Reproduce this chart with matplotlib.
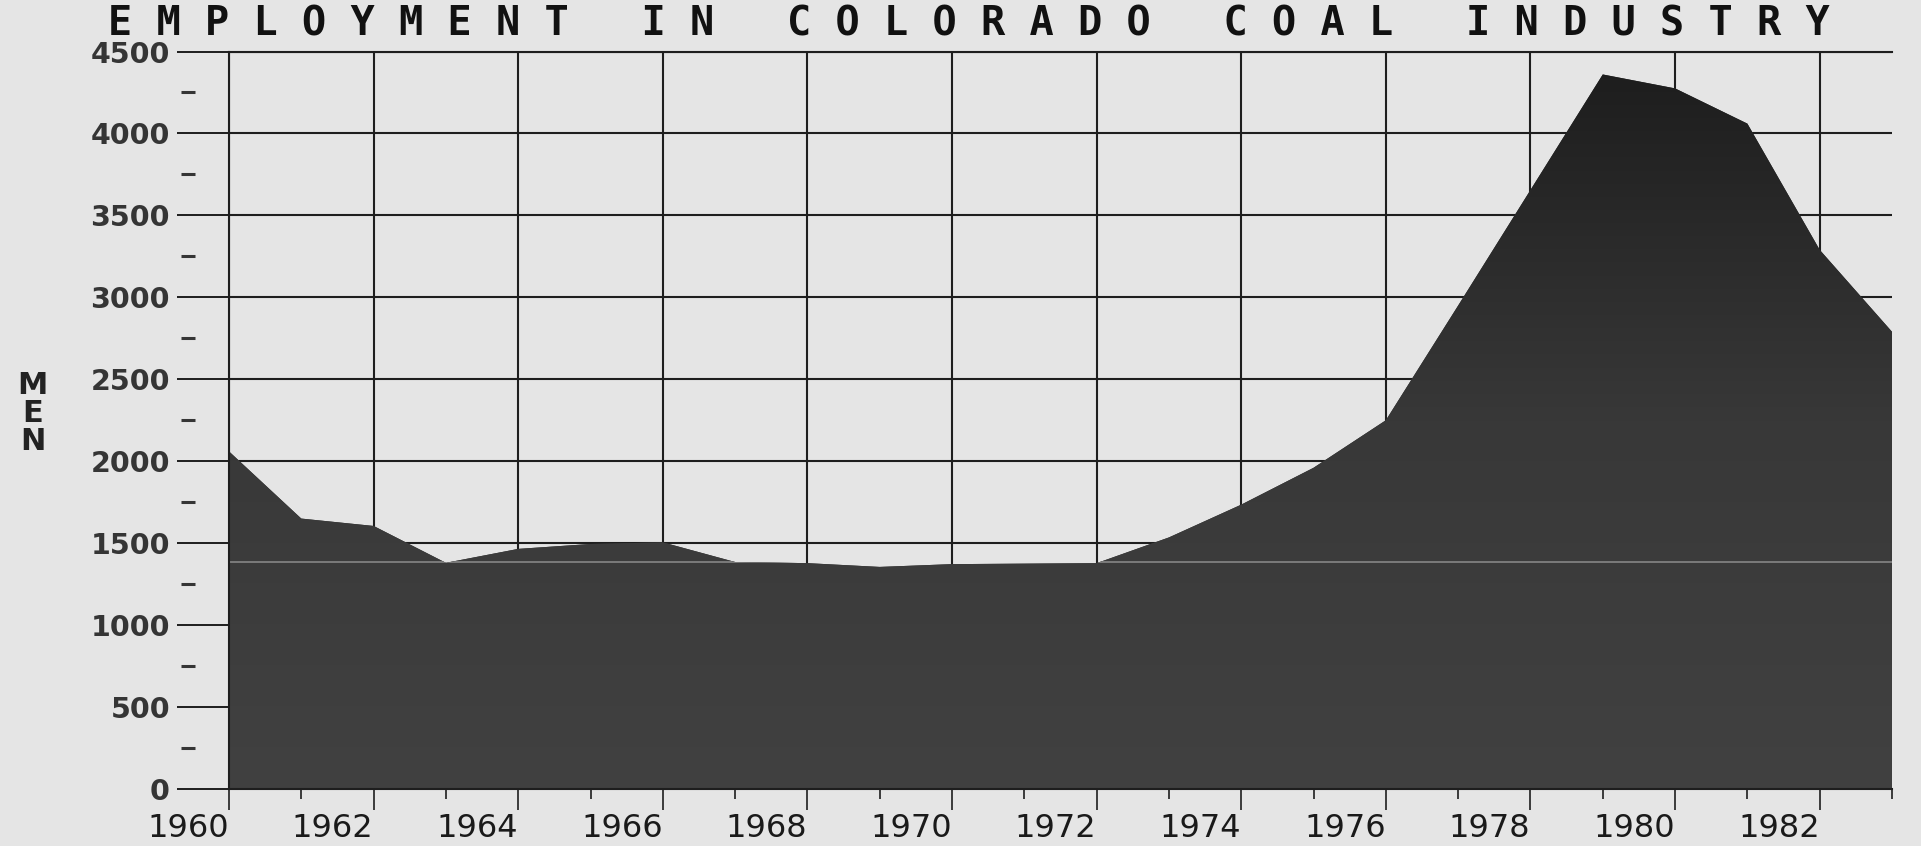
import numpy as np
import matplotlib
matplotlib.use("Agg")
import matplotlib.pyplot as plt
from matplotlib.colors import LinearSegmentedColormap

# Colorado coal industry employment
years = np.arange(1960, 1984)
men = [2060, 1650, 1605, 1380, 1465, 1495, 1505, 1385, 1378, 1355,
       1372, 1375, 1378, 1535, 1735, 1960, 2250, 2950, 3655, 4360,
       4275, 4060, 3290, 2790]

title = "EMPLOYMENT IN COLORADO COAL INDUSTRY"
ylabel = "MEN"
y_major = np.arange(0, 4501, 500)
y_minor = np.arange(250, 4500, 500)
x_major = np.arange(1960, 1983, 2)
x_minor = np.arange(1961, 1984, 2)
scan_line = 1385  # faint light streak across the shaded area

PAPER = "#e5e5e5"
INK = "#1e1e1e"

fig = plt.figure(figsize=(19.21, 8.46), dpi=100, facecolor=PAPER)
ax = fig.add_axes([0.1192, 0.0674, 0.8657, 0.8717], facecolor=PAPER)

area = ax.fill_between(years, 0, men, facecolor="#333333", edgecolor="none", zorder=2)
shade = LinearSegmentedColormap.from_list("shade", ["#414141", "#383838", "#1c1c1c"])
grad = np.linspace(0, 1, 256).reshape(-1, 1)
img = ax.imshow(grad, extent=[1960, 1983, 0, 4500], origin="lower", cmap=shade,
                aspect="auto", zorder=2.1, interpolation="bilinear")
img.set_clip_path(area.get_paths()[0], transform=ax.transData)

streak = ax.axhline(scan_line, color="#8c8c8c", lw=1.1, zorder=2.2)
streak.set_clip_path(area.get_paths()[0], transform=ax.transData)

ax.set_xlim(1960, 1983)
ax.set_ylim(0, 4500)

ax.set_yticks(y_major, labels=[str(v) for v in y_major], fontweight="bold")
ax.set_xticks(x_major, labels=[str(v) for v in x_major], ha="right")
ax.set_xticks(x_minor, minor=True)
ax.tick_params(axis="y", which="major", length=37.5, width=1.4, pad=5,
               labelsize=20.5, labelcolor="#353535", color=INK)
ax.tick_params(axis="x", which="major", length=15, width=1.2, pad=2,
               labelsize=23, labelcolor="#1a1a1a", color=INK)
ax.tick_params(axis="x", which="minor", length=7.5, width=1.2, color=INK)
ax.grid(True, which="major", color=INK, lw=1.5, zorder=1)
ax.set_axisbelow(True)

# detached minor dashes on the value axis
ax.plot(np.full(len(y_minor), -0.0244), y_minor, ls="none", marker="_", ms=9.5,
        mew=2.2, color="#353535", transform=ax.get_yaxis_transform(), clip_on=False)

for side in ("left", "top", "bottom"):
    ax.spines[side].set_color(INK)
    ax.spines[side].set_linewidth(1.5)
ax.spines["right"].set_visible(False)

fig.text(0.0562, 0.9575, " ".join(title), family="DejaVu Sans Mono", fontweight="bold",
         fontsize=29.0, color="#111111", ha="left", va="baseline")
fig.text(0.0170, 0.511, "\n".join(ylabel), family="DejaVu Sans", fontweight="bold",
         fontsize=22, color="#222222", ha="center", va="center",
         multialignment="center", linespacing=0.95)

fig.savefig("out.png", dpi=100, facecolor=PAPER)
